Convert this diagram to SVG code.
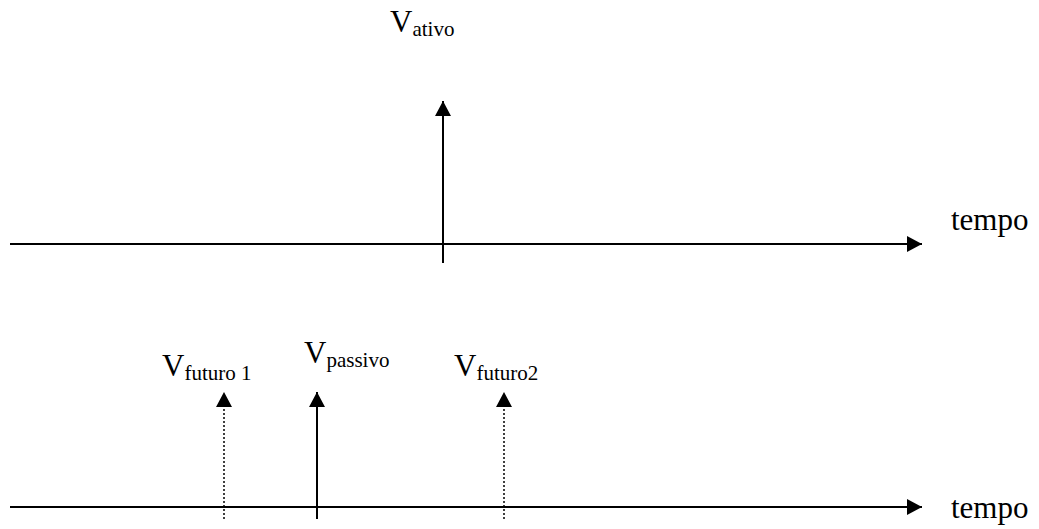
<svg xmlns="http://www.w3.org/2000/svg" width="1039" height="529" viewBox="0 0 1039 529">
<style>
.lbl{font-family:"Liberation Serif","Times New Roman",serif;font-size:31px;fill:#000}
.sub{font-size:21px}
.ax{stroke:#000;stroke-width:2;fill:none}
.dot{stroke:#000;stroke-width:1.5;stroke-dasharray:2,2;fill:none}
</style>
<defs>
<marker id="ah" markerUnits="userSpaceOnUse" markerWidth="16" markerHeight="16" refX="15" refY="8" orient="auto">
<polygon points="0,0 15,8 0,16" fill="#000"/>
</marker>
</defs>
<g id="connectors">
<line class="ax" x1="10" y1="244" x2="922" y2="244" marker-end="url(#ah)"/>
<line class="ax" x1="443" y1="263" x2="443" y2="101" marker-end="url(#ah)"/>
<line class="ax" x1="10" y1="507" x2="922" y2="507" marker-end="url(#ah)"/>
<line class="dot" x1="224" y1="519" x2="224" y2="406"/>
<polygon points="224,392 216,407 232,407" fill="#000"/>
<line class="ax" x1="317" y1="519" x2="317" y2="392" marker-end="url(#ah)"/>
<line class="dot" x1="504" y1="519" x2="504" y2="406"/>
<polygon points="504,392 496,407 512,407" fill="#000"/>
</g>
<g id="label-ativo"><text class="lbl" x="390" y="32">V<tspan class="sub" dy="4">ativo</tspan></text></g>
<g id="label-tempo-top"><text class="lbl" x="951" y="230">tempo</text></g>
<g id="label-futuro1"><text class="lbl" x="162" y="376">V<tspan class="sub" dy="4">futuro 1</tspan></text></g>
<g id="label-passivo"><text class="lbl" x="304" y="363">V<tspan class="sub" dy="4">passivo</tspan></text></g>
<g id="label-futuro2"><text class="lbl" x="454" y="376">V<tspan class="sub" dy="4">futuro2</tspan></text></g>
<g id="label-tempo-bottom"><text class="lbl" x="951" y="518">tempo</text></g>
</svg>
